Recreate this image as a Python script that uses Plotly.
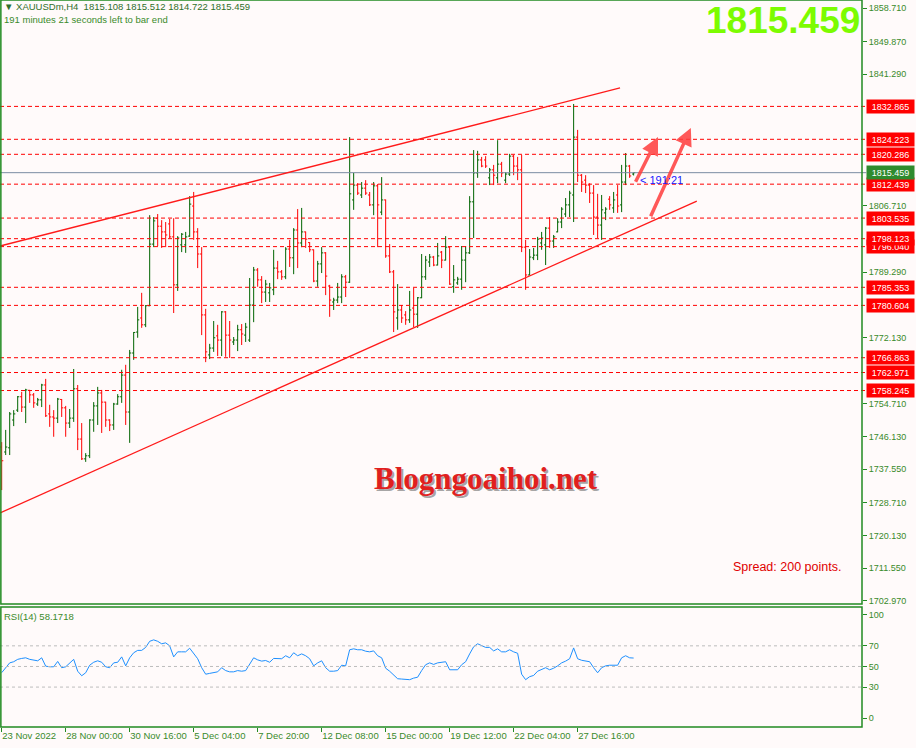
import plotly.graph_objects as go

# XAUUSDm H4 bars (bar 0 = 23 Nov 2022)
opens = [1743.4, 1742.1, 1743.2, 1750.5, 1753.1, 1756.6, 1753.9, 1758.3, 1757.1, 1754.7,
         1755.8, 1759.7, 1752.1, 1751.3, 1751.0, 1755.9, 1753.7, 1749.7, 1751.0, 1758.7,
         1745.5, 1740.3, 1741.1, 1750.5, 1754.2, 1757.6, 1755.2, 1750.5, 1749.2, 1754.7,
         1756.6, 1762.3, 1752.6, 1768.1, 1773.6, 1777.3, 1775.5, 1780.5, 1796.7, 1803.5,
         1801.4, 1799.9, 1802.0, 1798.6, 1786.0, 1796.5, 1796.5, 1798.8, 1806.7, 1799.9,
         1794.1, 1778.1, 1767.6, 1769.4, 1772.6, 1771.5, 1778.9, 1772.8, 1771.0, 1771.5,
         1774.2, 1772.8, 1771.5, 1780.7, 1789.9, 1787.3, 1784.1, 1783.9, 1784.7, 1790.4,
         1789.4, 1788.1, 1795.4, 1793.1, 1800.4, 1797.0, 1799.9, 1797.1, 1795.2, 1787.0,
         1791.5, 1794.4, 1785.7, 1781.5, 1782.0, 1782.8, 1788.1, 1786.7, 1808.3, 1812.2,
         1809.6, 1811.4, 1809.6, 1807.0, 1812.0, 1805.1, 1808.3, 1793.6, 1789.4, 1777.3,
         1779.4, 1778.1, 1776.8, 1779.9, 1778.3, 1782.6, 1788.1, 1792.0, 1793.3, 1791.2,
         1794.6, 1792.5, 1795.9, 1785.5, 1786.5, 1787.5, 1792.5, 1794.4, 1807.8, 1815.4,
         1818.8, 1818.8, 1814.1, 1816.2, 1814.1, 1817.7, 1813.5, 1815.1, 1819.8, 1817.2,
         1816.2, 1795.9, 1788.6, 1793.1, 1793.8, 1797.0, 1796.5, 1800.9, 1797.5, 1799.9,
         1802.5, 1804.6, 1807.0, 1809.6, 1824.8, 1814.8, 1813.5, 1812.2, 1810.1, 1803.8,
         1801.7, 1804.9, 1808.5, 1806.2, 1809.6, 1807.0, 1813.0, 1817.2, 1815.108]
highs = [1744.7, 1747.9, 1752.6, 1753.1, 1756.8, 1757.9, 1758.7, 1758.4, 1757.6, 1756.3,
         1760.0, 1761.3, 1754.5, 1753.1, 1756.3, 1756.0, 1754.2, 1753.4, 1763.9, 1759.7,
         1749.7, 1741.8, 1750.7, 1755.2, 1759.2, 1758.4, 1755.3, 1750.7, 1755.0, 1757.3,
         1763.7, 1765.0, 1768.9, 1773.6, 1780.2, 1783.9, 1780.7, 1804.3, 1803.8, 1804.6,
         1803.0, 1802.5, 1803.3, 1803.5, 1798.8, 1799.6, 1799.9, 1809.3, 1810.4, 1800.9,
         1795.9, 1779.7, 1770.5, 1776.5, 1775.5, 1779.1, 1779.1, 1776.5, 1772.3, 1775.5,
         1775.7, 1776.0, 1787.8, 1790.7, 1790.4, 1788.3, 1787.3, 1786.5, 1795.2, 1792.3,
         1789.9, 1795.9, 1797.8, 1800.9, 1805.9, 1806.2, 1800.0, 1797.2, 1795.3, 1792.3,
         1795.9, 1794.6, 1786.0, 1782.6, 1786.5, 1788.8, 1788.6, 1824.8, 1815.4, 1812.7,
         1813.0, 1813.5, 1810.4, 1813.0, 1812.5, 1814.3, 1808.4, 1796.7, 1789.9, 1786.2,
         1780.7, 1779.1, 1784.4, 1785.2, 1782.8, 1794.1, 1793.6, 1794.1, 1793.6, 1797.0,
         1794.9, 1798.8, 1796.0, 1791.2, 1788.1, 1796.2, 1796.2, 1809.3, 1821.4, 1821.2,
         1819.6, 1819.8, 1816.7, 1817.5, 1824.0, 1818.3, 1815.6, 1820.4, 1820.1, 1819.6,
         1820.1, 1797.8, 1795.4, 1795.7, 1798.6, 1799.9, 1801.2, 1803.8, 1799.1, 1803.5,
         1806.4, 1808.8, 1810.7, 1833.5, 1826.7, 1815.1, 1814.8, 1812.7, 1812.2, 1809.9,
         1809.6, 1806.4, 1809.3, 1810.4, 1812.2, 1817.5, 1820.6, 1817.5, 1815.512]
lows = [1732.1, 1741.3, 1741.3, 1748.9, 1752.6, 1752.6, 1749.7, 1755.0, 1753.7, 1754.2,
        1753.9, 1751.3, 1748.7, 1746.1, 1749.7, 1751.3, 1746.1, 1748.4, 1750.0, 1742.6,
        1740.0, 1739.5, 1740.5, 1747.4, 1749.2, 1747.1, 1748.7, 1747.6, 1747.9, 1754.5,
        1755.0, 1749.2, 1744.5, 1766.3, 1772.1, 1774.7, 1774.9, 1780.4, 1795.9, 1796.2,
        1795.7, 1795.9, 1798.3, 1778.6, 1784.4, 1794.6, 1794.4, 1798.6, 1797.8, 1790.4,
        1772.8, 1765.7, 1766.5, 1768.4, 1767.3, 1767.3, 1767.1, 1766.8, 1770.2, 1768.6,
        1770.2, 1771.0, 1771.0, 1776.2, 1785.5, 1781.2, 1781.5, 1781.5, 1783.3, 1787.5,
        1787.3, 1787.5, 1790.7, 1788.8, 1790.4, 1795.9, 1795.7, 1794.6, 1786.7, 1785.5,
        1789.1, 1783.3, 1777.6, 1779.4, 1781.2, 1781.2, 1782.8, 1786.5, 1805.7, 1809.6,
        1808.8, 1809.6, 1806.7, 1804.3, 1795.9, 1804.3, 1793.1, 1789.1, 1773.6, 1774.2,
        1776.0, 1775.5, 1776.0, 1774.9, 1774.7, 1782.5, 1787.3, 1790.7, 1790.9, 1791.1,
        1790.4, 1792.4, 1786.0, 1783.9, 1786.0, 1784.7, 1786.7, 1794.1, 1798.3, 1814.1,
        1816.9, 1816.7, 1812.2, 1812.2, 1812.7, 1814.3, 1812.7, 1814.6, 1814.8, 1813.5,
        1794.6, 1784.7, 1788.5, 1792.5, 1792.5, 1795.2, 1791.2, 1795.7, 1795.7, 1799.8,
        1800.9, 1803.8, 1803.8, 1802.5, 1813.0, 1810.4, 1810.1, 1807.5, 1799.1, 1798.3,
        1797.8, 1803.0, 1805.7, 1804.9, 1804.9, 1805.1, 1812.2, 1814.1, 1814.722]
closes = [1739.8, 1743.4, 1752.1, 1752.1, 1756.6, 1753.9, 1758.4, 1757.1, 1755.0, 1755.8,
          1759.7, 1751.6, 1751.3, 1751.0, 1756.0, 1753.7, 1749.7, 1751.0, 1758.7, 1745.5,
          1740.3, 1741.1, 1750.5, 1754.2, 1757.6, 1755.2, 1750.5, 1749.2, 1754.7, 1756.6,
          1762.3, 1752.6, 1768.1, 1773.5, 1776.8, 1775.5, 1780.5, 1796.7, 1802.8, 1801.4,
          1799.9, 1799.1, 1798.6, 1786.0, 1798.3, 1799.3, 1798.6, 1807.2, 1799.9, 1794.1,
          1778.1, 1768.4, 1769.4, 1772.1, 1771.5, 1778.9, 1772.8, 1771.5, 1771.5, 1774.2,
          1773.1, 1774.9, 1780.7, 1789.9, 1787.3, 1784.1, 1786.2, 1785.2, 1790.4, 1789.4,
          1788.1, 1795.4, 1793.1, 1800.4, 1797.0, 1799.9, 1798.0, 1795.2, 1787.0, 1791.5,
          1794.4, 1788.3, 1782.0, 1782.0, 1782.8, 1788.1, 1786.7, 1809.9, 1812.2, 1810.1,
          1811.4, 1810.1, 1807.0, 1812.0, 1807.0, 1808.3, 1793.6, 1789.4, 1778.9, 1779.4,
          1777.3, 1776.8, 1779.4, 1778.3, 1782.6, 1788.1, 1792.5, 1793.3, 1791.2, 1793.6,
          1792.5, 1795.9, 1786.2, 1787.3, 1787.5, 1792.5, 1794.4, 1807.8, 1815.4, 1818.8,
          1817.2, 1817.2, 1816.2, 1814.8, 1817.7, 1815.4, 1815.1, 1819.8, 1817.2, 1816.2,
          1795.9, 1788.6, 1793.3, 1793.8, 1798.0, 1798.3, 1800.9, 1797.5, 1798.6, 1802.5,
          1805.9, 1807.0, 1810.1, 1824.8, 1814.8, 1813.0, 1812.2, 1810.1, 1803.8, 1801.7,
          1805.7, 1805.9, 1807.0, 1808.3, 1806.7, 1813.0, 1817.2, 1814.6, 1815.459]

rsi = [44.0, 48.3, 53.5, 54.6, 56.9, 57.8, 58.4, 56.9, 56.0, 55.5,
       58.4, 50.3, 49.7, 49.7, 54.9, 48.8, 49.7, 53.5, 56.9, 45.4,
       41.0, 43.9, 51.2, 54.1, 55.5, 54.1, 49.7, 48.8, 53.5, 54.1,
       59.3, 50.6, 58.4, 63.3, 65.6, 65.6, 68.5, 74.4, 75.8, 74.4,
       72.0, 72.9, 70.0, 59.3, 64.2, 64.2, 64.2, 67.7, 62.8, 57.5,
       48.8, 42.5, 43.3, 43.9, 44.8, 48.8, 46.0, 44.8, 44.8, 46.0,
       45.4, 46.0, 51.7, 58.4, 56.4, 55.2, 55.8, 54.1, 57.8, 57.5,
       57.5, 60.4, 58.4, 63.3, 60.4, 62.2, 60.4, 57.5, 50.6, 53.5,
       55.5, 48.8, 45.4, 45.4, 46.0, 51.2, 50.6, 66.2, 67.1, 66.2,
       66.2, 64.8, 64.2, 65.1, 60.4, 58.4, 48.3, 45.4, 41.9, 38.1,
       37.8, 37.5, 37.2, 38.7, 39.6, 46.0, 51.7, 53.5, 52.0, 53.5,
       54.1, 54.6, 46.8, 46.8, 46.8, 51.7, 54.6, 62.2, 69.1, 72.0,
       70.6, 68.5, 68.5, 65.1, 67.1, 64.2, 64.2, 66.2, 64.2, 62.8,
       42.5, 37.2, 40.1, 41.3, 45.4, 46.8, 48.8, 46.8, 48.3, 50.6,
       53.5, 55.2, 57.5, 68.0, 57.5, 56.0, 55.2, 54.6, 48.8, 43.9,
       48.8, 50.6, 51.2, 51.2, 51.2, 58.4, 60.4, 58.4, 58.17]

time_labels = ['23 Nov 2022', '28 Nov 00:00', '30 Nov 16:00', '5 Dec 04:00', '7 Dec 20:00',
               '12 Dec 08:00', '15 Dec 00:00', '19 Dec 12:00', '22 Dec 04:00', '27 Dec 16:00']
time_label_bars = [0, 16, 32, 48, 64, 80, 96, 112, 128, 144]

price_ticks = [1858.710, 1849.870, 1841.290, 1806.710, 1789.290, 1772.130, 1754.710,
               1746.130, 1737.550, 1728.710, 1720.130, 1711.550, 1702.970]
levels = [1832.865, 1824.223, 1820.286, 1812.439, 1803.535, 1796.040, 1798.123,
          1785.353, 1780.604, 1766.863, 1762.971, 1758.245]
last_price = 1815.459
rsi_levels = [70, 50, 30]
rsi_ticks = [100, 70, 50, 30, 0]

# channel drawn on the chart: (bar, price) end points
channel_upper = [(-0.4, 1796.2), (154.6, 1837.7)]
channel_lower = [(-0.4, 1726.1), (173.8, 1808.0)]
# hand drawn arrows: (tail bar, tail price, head bar, head price)
arrows = [(158.3, 1812.7, 164.1, 1824.8), (162.1, 1803.6, 172.3, 1827.2)]

GREEN = '#228B22'
TXT = '#3A8A2A'
BG = '#FFFAFA'
FONT = 'Liberation Sans, Arial, sans-serif'

main_bottom = 0.1692
rsi_top = 0.1651

fig = go.Figure()
bars = list(range(len(closes)))
fig.add_trace(go.Ohlc(x=bars, open=opens, high=highs, low=lows, close=closes,
                      increasing=dict(line=dict(color='#006400', width=1)),
                      decreasing=dict(line=dict(color='#FF0000', width=1)),
                      tickwidth=0.4, hoverinfo='skip', xaxis='x', yaxis='y'))
fig.add_trace(go.Scatter(x=bars, y=rsi, mode='lines', line=dict(color='#1E90FF', width=1),
                         hoverinfo='skip', xaxis='x', yaxis='y2'))

shapes = []
for lv in levels:
    shapes.append(dict(type='line', xref='paper', x0=0, x1=1.005, yref='y', y0=lv, y1=lv,
                       line=dict(color='#FF0000', width=1, dash='4px,3px')))
shapes.append(dict(type='line', xref='paper', x0=0, x1=1.005, yref='y', y0=last_price, y1=last_price,
                   line=dict(color='#7B8CA3', width=1)))
for pts in (channel_upper, channel_lower):
    shapes.append(dict(type='line', xref='x', yref='y', x0=pts[0][0], y0=pts[0][1],
                       x1=pts[1][0], y1=pts[1][1], line=dict(color='#FF1A1A', width=1.3)))
for lv in rsi_levels:
    shapes.append(dict(type='line', xref='paper', x0=0, x1=1, yref='y2', y0=lv, y1=lv,
                       line=dict(color='#BDBDBD', width=1, dash='3px,3px')))
# panel frames
shapes.append(dict(type='rect', xref='paper', yref='paper', x0=0.001, x1=1, y0=main_bottom, y1=1,
                   line=dict(color=GREEN, width=1.5)))
shapes.append(dict(type='rect', xref='paper', yref='paper', x0=0.001, x1=1, y0=0, y1=rsi_top,
                   line=dict(color=GREEN, width=1.5)))

ann = []
for lv in levels:
    ann.append(dict(xref='paper', x=1, xanchor='left', xshift=4, yref='y', y=lv,
                    text='%.3f' % lv, showarrow=False, bgcolor='#FF0000', width=45, height=11,
                    borderpad=1, font=dict(family=FONT, size=9, color='white')))
ann.append(dict(xref='paper', x=1, xanchor='left', xshift=4, yref='y', y=last_price,
                text='%.3f' % last_price, showarrow=False, bgcolor='#2E8B2E', width=45, height=11,
                borderpad=1, font=dict(family=FONT, size=9, color='white')))

for tx, ty, hx, hy in arrows:
    ann.append(dict(x=hx, y=hy, ax=tx, ay=ty, xref='x', yref='y', axref='x', ayref='y',
                    text='', showarrow=True, arrowhead=2, arrowsize=1, arrowwidth=3.5,
                    arrowcolor='rgba(255,60,60,0.85)', standoff=0))

ann.append(dict(xref='x', x=159.1, xanchor='left', yref='y', y=1813.5, text='&lt; 191:21',
                showarrow=False, font=dict(family=FONT, size=11, color='#2020FF')))
ann.append(dict(xref='paper', x=1, xanchor='right', yref='paper', y=1, yanchor='top', yshift=2,
                text='<b>1815.459</b>', showarrow=False,
                font=dict(family=FONT, size=37, color='#7CFC00')))
ann.append(dict(xref='paper', x=0, xanchor='left', xshift=2, yref='paper', y=1, yanchor='top', yshift=1,
                text='\u25bc XAUUSDm,H4  1815.108 1815.512 1814.722 1815.459', showarrow=False,
                font=dict(family=FONT, size=9.5, color='#2F6F2A')))
ann.append(dict(xref='paper', x=0, xanchor='left', xshift=2, yref='paper', y=1, yanchor='top', yshift=-12,
                text='191 minutes 21 seconds left to bar end', showarrow=False,
                font=dict(family=FONT, size=9.5, color='#3A8A2A')))
ann.append(dict(xref='paper', x=0, xanchor='left', xshift=2, yref='paper', y=rsi_top, yanchor='top', yshift=-2,
                text='RSI(14) 58.1718', showarrow=False,
                font=dict(family=FONT, size=9.5, color='#3A8A2A')))
ann.append(dict(xref='paper', x=486 / 862, yref='paper', y=0.3425, xshift=2, yshift=-2,
                text='<b>Blogngoaihoi.net</b>', showarrow=False,
                font=dict(family='Liberation Serif, Times New Roman, serif', size=31, color='rgba(90,90,90,0.55)')))
ann.append(dict(xref='paper', x=486 / 862, yref='paper', y=0.3425,
                text='<b>Blogngoaihoi.net</b>', showarrow=False,
                font=dict(family='Liberation Serif, Times New Roman, serif', size=31, color='#E0201E')))
ann.append(dict(xref='paper', x=731 / 862, xanchor='left', yref='paper', y=0.2077,
                text='Spread: 200 points.', showarrow=False,
                font=dict(family=FONT, size=12.5, color='#E00000')))

fig.update_layout(
    width=916, height=748,
    margin=dict(l=0, r=54, t=0, b=21, autoexpand=False),
    paper_bgcolor=BG, plot_bgcolor=BG,
    showlegend=False,
    shapes=shapes, annotations=ann,
    xaxis=dict(domain=[0, 1], anchor='y2', range=[-0.425, 215.1], showgrid=False, zeroline=False,
               tickvals=time_label_bars, ticktext=time_labels, ticks='outside', ticklen=4,
               tickcolor=GREEN, ticklabelposition='outside right', tickangle=0, automargin=False,
               tickfont=dict(family=FONT, size=9.5, color=TXT),
               rangeslider=dict(visible=False)),
    yaxis=dict(domain=[main_bottom, 1], anchor='x', side='right', range=[1702.18, 1860.81],
               showgrid=False, zeroline=False, tickvals=price_ticks, automargin=False,
               ticktext=['%.3f' % v for v in price_ticks], ticks='outside', ticklen=4,
               tickcolor=GREEN, tickfont=dict(family=FONT, size=9, color=TXT)),
    yaxis2=dict(domain=[0, rsi_top], anchor='x', side='right', range=[-8.7, 107.7],
                showgrid=False, zeroline=False, tickvals=rsi_ticks, ticks='outside', ticklen=4,
                automargin=False, tickcolor=GREEN, tickfont=dict(family=FONT, size=9, color=TXT)),
)

# page body has an 8px default margin; drop it so the chart sits at the window corner
fig.write_html("out.html", config={'displayModeBar': False},
               post_script="document.body.style.margin='0';")
